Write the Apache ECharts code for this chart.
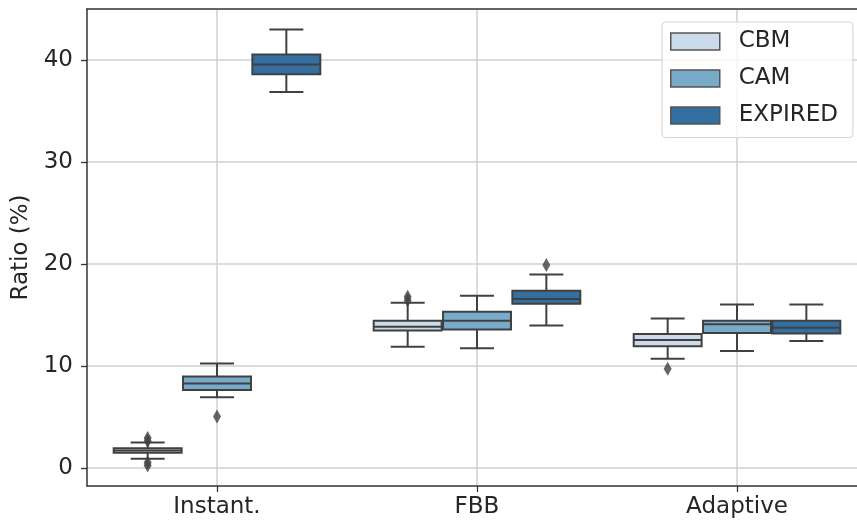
<!DOCTYPE html>
<html><head><meta charset="utf-8">
<script src="https://cdn.jsdelivr.net/npm/echarts@6/dist/echarts.min.js"></script>
<style>html,body{margin:0;padding:0;background:#fff}#c{width:857px;height:522px}</style>
</head><body><div id="c"></div><script>
const categories = ['Instant.', 'FBB', 'Adaptive'];
const hues = ['CBM', 'CAM', 'EXPIRED'];
const yTicks = [0, 10, 20, 30, 40];
// [min, q1, median, q3, max] per category
const cbmStats = [[0.91, 1.52, 1.74, 1.95, 2.52], [11.9, 13.5, 13.85, 14.45, 16.2], [10.72, 11.95, 12.55, 13.15, 14.67]];
const camStats = [[6.96, 7.65, 8.3, 8.98, 10.26], [11.75, 13.6, 14.45, 15.33, 16.9], [11.47, 13.25, 14.1, 14.45, 16.05]];
const expiredStats = [[36.86, 38.6, 39.57, 40.55, 43.0], [13.99, 16.1, 16.57, 17.38, 18.99], [12.45, 13.2, 13.76, 14.45, 16.05]];
// outliers: [categoryIndex, value]
const cbmOutliers = [[0, 2.65], [0, 2.95], [0, 0.25], [0, 0.55], [1, 16.45], [1, 16.8], [2, 9.75]];
const camOutliers = [[0, 5.05]];
const expiredOutliers = [[1, 19.9]];

const statsByHue = [cbmStats, camStats, expiredStats];
const outliersByHue = [cbmOutliers, camOutliers, expiredOutliers];
const colors = ['#cbdbe9', '#78aac9', '#346fa2'];
const edge = '#404040';
const groupWidth = 0.8;
const slot = groupWidth / hues.length;
const boxW = slot * 0.98;
const FONT = 'DejaVu Sans';
const FS = 23;
const X_MIN = -0.5, X_MAX = 2.4615;
function offsetOf(h) { return -groupWidth / 2 + slot * (h + 0.5); }

const series = [];
hues.forEach((name, h) => {
  series.push({
    type: 'custom', name, coordinateSystem: 'cartesian2d',
    itemStyle: { color: colors[h], borderColor: edge },
    data: statsByHue[h].map((s, i) => [i, ...s]),
    encode: { x: 0, y: [1, 2, 3, 4, 5] },
    renderItem(params, api) {
      const xc = api.value(0) + offsetOf(h);
      const mn = api.value(1), q1 = api.value(2), md = api.value(3), q3 = api.value(4), mx = api.value(5);
      const L = api.coord([xc - boxW / 2, q3]);
      const R = api.coord([xc + boxW / 2, q1]);
      const cTop = api.coord([xc, mx]), cBot = api.coord([xc, mn]);
      const capL = api.coord([xc - boxW / 4, mx])[0], capR = api.coord([xc + boxW / 4, mx])[0];
      const medY = api.coord([xc, md])[1];
      const line = { stroke: edge, lineWidth: 2 };
      return { type: 'group', children: [
        { type: 'line', shape: { x1: cTop[0], y1: cTop[1], x2: cTop[0], y2: L[1] }, style: line },
        { type: 'line', shape: { x1: cBot[0], y1: R[1], x2: cBot[0], y2: cBot[1] }, style: line },
        { type: 'line', shape: { x1: capL, y1: cTop[1], x2: capR, y2: cTop[1] }, style: line },
        { type: 'line', shape: { x1: capL, y1: cBot[1], x2: capR, y2: cBot[1] }, style: line },
        { type: 'rect', shape: { x: L[0], y: L[1], width: R[0] - L[0], height: R[1] - L[1] }, style: { fill: colors[h], stroke: edge, lineWidth: 2 } },
        { type: 'line', shape: { x1: L[0], y1: medY, x2: R[0], y2: medY }, style: line }
      ] };
    }
  });
});
hues.forEach((name, h) => {
  series.push({
    type: 'scatter', name: name + ' outliers',
    symbol: 'diamond', symbolSize: [8, 14],
    itemStyle: { color: edge },
    data: outliersByHue[h].map(([c, v]) => [c + offsetOf(h), v]),
    z: 3
  });
});

const spine = { show: true, onZero: false, lineStyle: { color: '#333', width: 1.5 } };
const chart = echarts.init(document.getElementById('c'), null, { renderer: 'canvas' });
chart.setOption({
  animation: false,
  backgroundColor: '#fff',
  grid: { left: 87, top: 9, width: 770, height: 477, show: false },
  legend: {
    orient: 'vertical', left: 662, top: 22,
    padding: [7.5, 15, 10, 8],
    itemWidth: 49, itemHeight: 17, itemGap: 13, icon: 'rect',
    backgroundColor: 'rgba(255,255,255,0.8)', borderColor: '#d8d8d8', borderWidth: 1.2, borderRadius: 4,
    textStyle: { fontFamily: FONT, fontSize: FS, color: '#262626', lineHeight: 24, padding: [0, 0, 0, 14] },
    data: hues.map((n, h) => ({ name: n, itemStyle: { color: colors[h], borderColor: '#555', borderWidth: 1.5 } })),
    selectedMode: false
  },
  xAxis: [{
    type: 'value', min: X_MIN, max: X_MAX, position: 'bottom',
    axisLine: spine,
    axisTick: { show: true, customValues: [0, 1, 2], length: 6, lineStyle: { color: '#333', width: 1.3 } },
    axisLabel: { customValues: [0, 1, 2], formatter: v => categories[Math.round(v)], fontSize: FS, fontFamily: FONT, color: '#262626', margin: 10 },
    splitLine: { show: true, lineStyle: { color: '#d0d0d0', width: 1.5 } }
  }, {
    type: 'value', min: X_MIN, max: X_MAX, position: 'top',
    axisLine: spine, axisTick: { show: false }, axisLabel: { show: false }, splitLine: { show: false }
  }],
  yAxis: {
    type: 'value', min: -1.75, max: 45,
    name: 'Ratio (%)', nameLocation: 'middle', nameGap: 51,
    nameTextStyle: { fontSize: FS, fontFamily: FONT, color: '#262626' },
    axisLine: spine,
    axisTick: { show: true, customValues: yTicks, length: 6, lineStyle: { color: '#333', width: 1.3 } },
    axisLabel: { customValues: yTicks, fontSize: FS, fontFamily: FONT, color: '#262626', margin: 14 },
    splitLine: { show: true, lineStyle: { color: '#d0d0d0', width: 1.5 } }
  },
  series
});
</script></body></html>
